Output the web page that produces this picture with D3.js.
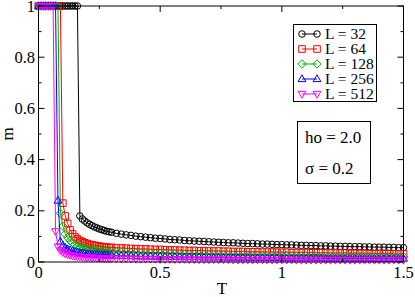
<!DOCTYPE html>
<html>
<head>
<meta charset="utf-8">
<script src="https://cdn.jsdelivr.net/npm/d3@7"></script>
<style>
  body { margin: 0; background: #fff; }
</style>
</head>
<body>
<svg id="chart" width="415" height="297" font-family="'Liberation Serif', 'Times New Roman', Times, serif"></svg>
<script>
// temperature grid (fine near the jump, coarser in the tail)
var T = [0,0.01,0.02,0.03,0.04,0.05,0.06,0.07,0.08,0.09,0.10,0.11,0.12,0.13,0.14,0.15,0.16,0.17,0.18,0.19,0.20,
  0.21,0.22,0.23,0.24,0.25,0.26,0.27,0.28,0.29,0.30,
  0.32,0.34,0.36,0.38,0.40,0.42,0.44,0.46,0.48,0.50,0.52,0.54,0.56,0.58,0.60,0.62,0.64,0.66,0.68,0.70,
  0.72,0.74,0.76,0.78,0.80,0.82,0.84,0.86,0.88,0.90,0.92,0.94,0.96,0.98,1.00,1.02,1.04,1.06,1.08,1.10,
  1.12,1.14,1.16,1.18,1.20,1.22,1.24,1.26,1.28,1.30,1.32,1.34,1.36,1.38,1.40,1.42,1.44,1.46,1.48,1.50];

var m32 = [1,1,1,1,1,1,1,1,1,1,1,1,1,1,1,1,1,0.180,0.168,0.160,0.153,
  0.147,0.142,0.137,0.133,0.129,0.126,0.123,0.120,0.118,0.116,
  0.112,0.109,0.106,0.104,0.101,0.099,0.097,0.095,0.093,0.092,0.090,0.088,0.087,0.086,0.084,0.083,0.082,0.081,0.080,0.079,
  0.078,0.077,0.076,0.075,0.075,0.074,0.073,0.072,0.072,0.071,0.070,0.070,0.069,0.068,0.068,0.067,0.067,0.066,0.065,0.065,
  0.064,0.064,0.063,0.063,0.062,0.062,0.061,0.061,0.060,0.060,0.060,0.059,0.059,0.058,0.058,0.058,0.057,0.057,0.056,0.056];

var m64 = [1,1,1,1,1,1,1,1,1,1,0.230,0.180,0.150,0.125,0.110,0.098,0.090,0.084,0.079,0.075,0.072,
  0.069,0.067,0.065,0.063,0.062,0.060,0.059,0.058,0.057,0.057,
  0.056,0.055,0.054,0.053,0.052,0.051,0.051,0.050,0.049,0.049,0.048,0.047,0.047,0.046,0.046,0.045,0.045,0.044,0.044,0.043,
  0.043,0.043,0.042,0.042,0.041,0.041,0.041,0.040,0.040,0.040,0.039,0.039,0.039,0.038,0.038,0.038,0.037,0.037,0.037,0.037,
  0.036,0.036,0.036,0.036,0.035,0.035,0.035,0.035,0.034,0.034,0.034,0.034,0.033,0.033,0.033,0.033,0.033,0.032,0.032,0.032];

var m128 = [1,1,1,1,1,1,1,1,1,0.190,0.140,0.110,0.095,0.083,0.075,0.068,0.063,0.059,0.056,0.053,0.051,
  0.049,0.047,0.046,0.045,0.044,0.043,0.042,0.041,0.041,0.040,
  0.039,0.038,0.037,0.036,0.036,0.035,0.034,0.034,0.033,0.033,0.032,0.032,0.031,0.031,0.030,0.030,0.030,0.029,0.029,0.029,
  0.028,0.028,0.028,0.027,0.027,0.027,0.027,0.026,0.026,0.026,0.026,0.025,0.025,0.025,0.025,0.025,0.024,0.024,0.024,0.024,
  0.024,0.023,0.023,0.023,0.023,0.023,0.023,0.022,0.022,0.022,0.022,0.022,0.022,0.022,0.021,0.021,0.021,0.021,0.021,0.021];

var m256 = [1,1,1,1,1,1,1,1,0.240,0.080,0.065,0.056,0.050,0.046,0.042,0.040,0.038,0.036,0.034,0.033,0.032,
  0.031,0.030,0.029,0.029,0.028,0.027,0.027,0.026,0.026,0.025,
  0.025,0.024,0.024,0.023,0.023,0.022,0.022,0.022,0.021,0.021,0.021,0.020,0.020,0.020,0.019,0.019,0.019,0.019,0.018,0.018,
  0.018,0.018,0.018,0.017,0.017,0.017,0.017,0.017,0.016,0.016,0.016,0.016,0.016,0.016,0.016,0.015,0.015,0.015,0.015,0.015,
  0.015,0.015,0.015,0.014,0.014,0.014,0.014,0.014,0.014,0.014,0.014,0.014,0.014,0.013,0.013,0.013,0.013,0.013,0.013,0.013];

var m512 = [1,1,1,1,1,1,1,0.120,0.060,0.045,0.038,0.033,0.029,0.027,0.025,0.023,0.022,0.021,0.020,0.019,0.018,
  0.018,0.017,0.017,0.016,0.016,0.015,0.015,0.015,0.014,0.014,
  0.014,0.013,0.013,0.013,0.012,0.012,0.012,0.012,0.012,0.011,0.011,0.011,0.011,0.011,0.011,0.010,0.010,0.010,0.010,0.010,
  0.010,0.010,0.010,0.010,0.009,0.009,0.009,0.009,0.009,0.009,0.009,0.009,0.009,0.009,0.009,0.009,0.009,0.008,0.008,0.008,
  0.008,0.008,0.008,0.008,0.008,0.008,0.008,0.008,0.008,0.008,0.008,0.008,0.008,0.008,0.008,0.008,0.008,0.008,0.008,0.008];

var sizes = ["L = 32", "L = 64", "L = 128", "L = 256", "L = 512"];
var colors = ["#000000", "#ff0000", "#00b000", "#0000ff", "#ff00ff"];
var shapes = ["circle", "square", "diamond", "triUp", "triDown"];
var xTicks = [0, 0.5, 1, 1.5];
var yTicks = [0, 0.2, 0.4, 0.6, 0.8, 1];

var series = [m32, m64, m128, m256, m512];

var svg = d3.select("#chart");
var x = d3.scaleLinear().domain([0, 1.5]).range([38.5, 403.5]);
var y = d3.scaleLinear().domain([0, 1]).range([262, 6]);

// marker paths
function markerPath(shape) {
  if (shape == "circle") return d3.symbol(d3.symbolCircle, 34)();
  if (shape == "square") return "M-3.3,-3.3H3.3V3.3H-3.3Z";
  if (shape == "diamond") return "M0,-4.2L4.2,0L0,4.2L-4.2,0Z";
  if (shape == "triUp") return "M0,-4.2L3.9,2.6L-3.9,2.6Z";
  return "M0,4.2L3.9,-2.6L-3.9,-2.6Z";
}

var plot = svg.append("g");
var line = d3.line()
  .x(function(d, i){ return x(T[i]) })
  .y(function(d){ return y(d) });

series.forEach(function(s, k) {
  var g = plot.append("g");
  g.append("path")
    .attr("d", line(s))
    .attr("fill", "none")
    .attr("stroke", colors[k])
    .attr("stroke-width", 1);
  g.selectAll("path.mk")
    .data(s)
    .enter()
    .append("path")
      .attr("class", "mk")
      .attr("d", markerPath(shapes[k]))
      .attr("transform", function(d, i){ return "translate(" + x(T[i]) + "," + y(d) + ")" })
      .attr("fill", "none")
      .attr("stroke", colors[k])
      .attr("stroke-width", 1);
});

// frame
svg.append("rect")
  .attr("x", x(0)).attr("y", y(1))
  .attr("width", x(1.5) - x(0)).attr("height", y(0) - y(1))
  .attr("fill", "none").attr("stroke", "#000").attr("stroke-width", 1);

// inward ticks on all four sides
var xMinor = [0.25, 0.75, 1.25];
var yMinor = [0.1, 0.3, 0.5, 0.7, 0.9];
var ax = svg.append("g").attr("stroke", "#000").attr("stroke-width", 1);
function vt(v, len) {
  ax.append("line").attr("x1", x(v)).attr("x2", x(v)).attr("y1", y(0)).attr("y2", y(0) - len);
  ax.append("line").attr("x1", x(v)).attr("x2", x(v)).attr("y1", y(1)).attr("y2", y(1) + len);
}
function ht(v, len) {
  ax.append("line").attr("y1", y(v)).attr("y2", y(v)).attr("x1", x(0)).attr("x2", x(0) + len);
  ax.append("line").attr("y1", y(v)).attr("y2", y(v)).attr("x1", x(1.5)).attr("x2", x(1.5) - len);
}
xTicks.forEach(function(v){ vt(v, 6) });
xMinor.forEach(function(v){ vt(v, 3) });
yTicks.forEach(function(v){ ht(v, 6) });
yMinor.forEach(function(v){ ht(v, 3) });

svg.selectAll("text.xt")
  .data(xTicks)
  .enter()
  .append("text")
    .attr("x", function(d){ return x(d) })
    .attr("y", 278)
    .attr("text-anchor", "middle")
    .attr("font-size", 16.5)
    .text(function(d){ return d });

svg.selectAll("text.yt")
  .data(yTicks)
  .enter()
  .append("text")
    .attr("x", 35)
    .attr("y", function(d){ return y(d) + 5.5 })
    .attr("text-anchor", "end")
    .attr("font-size", 16.5)
    .text(function(d){ return d });

svg.append("text").attr("x", 222).attr("y", 294).attr("text-anchor", "middle")
  .attr("font-size", 17).text("T");
svg.append("text").attr("transform", "translate(13,134) rotate(-90)").attr("text-anchor", "middle")
  .attr("font-size", 17).text("m");

// legend
var leg = svg.append("g");
leg.append("rect").attr("x", 293.5).attr("y", 24.5).attr("width", 83).attr("height", 77)
  .attr("fill", "#fff").attr("stroke", "#000").attr("stroke-width", 1);
sizes.forEach(function(name, k) {
  var ly = 34 + k * 15;
  leg.append("line").attr("x1", 302).attr("x2", 317).attr("y1", ly).attr("y2", ly)
    .attr("stroke", colors[k]);
  [302, 317].forEach(function(px) {
    leg.append("path").attr("d", markerPath(shapes[k]))
      .attr("transform", "translate(" + px + "," + ly + ")")
      .attr("fill", "none").attr("stroke", colors[k]);
  });
  leg.append("text").attr("x", 325).attr("y", ly + 5).attr("font-size", 15.5).text(name);
});

// parameters box
var pb = svg.append("g");
pb.append("rect").attr("x", 297.5).attr("y", 121.5).attr("width", 73).attr("height", 62)
  .attr("fill", "#fff").attr("stroke", "#000").attr("stroke-width", 1);
pb.append("text").attr("x", 305).attr("y", 143).attr("font-size", 17).text("ho = 2.0");
pb.append("text").attr("x", 305).attr("y", 174).attr("font-size", 17).text("\u03c3 = 0.2");
</script>
</body>
</html>
